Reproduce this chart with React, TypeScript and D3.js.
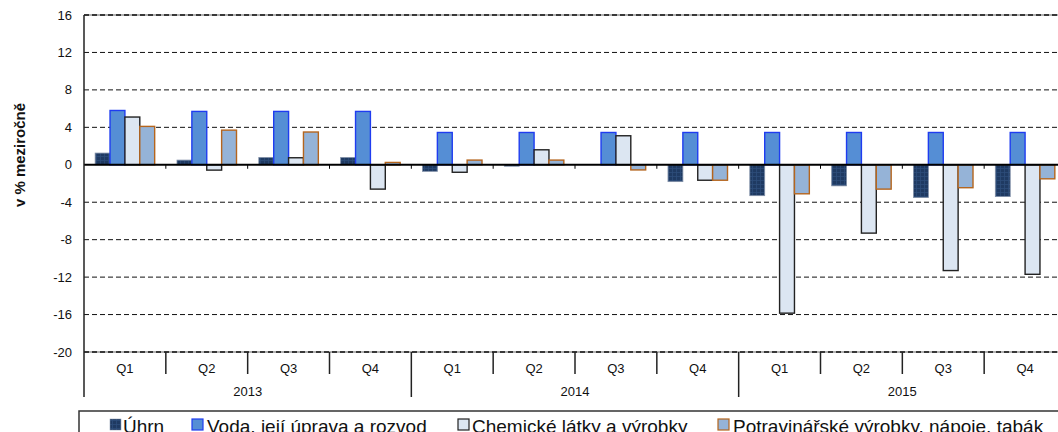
import React from "react";
import * as d3 from "d3";

const years = ["2013", "2014", "2015"];
const quarters = ["Q1", "Q2", "Q3", "Q4"];
const seriesNames = [
  "Úhrn",
  "Voda, její úprava a rozvod",
  "Chemické látky a výrobky",
  "Potravinářské výrobky, nápoje, tabák",
];
const uhrn = [1.25, 0.5, 0.78, 0.78, -0.7, -0.15, 0.0, -1.8, -3.3, -2.25, -3.5, -3.4];
const voda = [5.8, 5.7, 5.7, 5.7, 3.45, 3.45, 3.45, 3.45, 3.45, 3.45, 3.45, 3.45];
const chem = [5.1, -0.57, 0.75, -2.6, -0.8, 1.6, 3.1, -1.65, -15.85, -7.3, -11.3, -11.7];
const potr = [4.1, 3.7, 3.5, 0.25, 0.5, 0.5, -0.55, -1.65, -3.1, -2.6, -2.45, -1.5];
const yTicks = [16, 12, 8, 4, 0, -4, -8, -12, -16, -20];

const W = 1058;
const H = 432;
const FONT = "'Liberation Sans', Arial, sans-serif";

const styles = [
  { fill: "url(#uhrnPat)", stroke: "#7f8ea6", sw: 0.8 },
  { fill: "#558ED5", stroke: "#1f3cf0", sw: 1.4 },
  { fill: "#DCE6F2", stroke: "#222222", sw: 1.4 },
  { fill: "#95B3D7", stroke: "#B5651D", sw: 1.4 },
];

export default function App() {
  const left = 84;
  const right = 1066;
  const top = 15;
  const bottom = 352;
  const cats = years.flatMap((y) => quarters.map((q) => `${y}-${q}`));
  const x0 = d3.scaleBand<string>().domain(cats).range([left, right]).paddingInner(0).paddingOuter(0);
  const x1 = d3
    .scaleBand<string>()
    .domain(seriesNames)
    .range([0, x0.bandwidth()])
    .paddingInner(0)
    .paddingOuter(0.75);
  const y = d3.scaleLinear().domain([-20, 16]).range([bottom, top]);
  const yearScale = d3.scaleBand<string>().domain(years).range([left, right]);
  const data = [uhrn, voda, chem, potr];

  const legendItems = [
    { mx: 110, tx: 123 },
    { mx: 192, tx: 207 },
    { mx: 458, tx: 472 },
    { mx: 718, tx: 733 },
  ];

  return (
    <svg
      width={W}
      height={H}
      style={{ position: "absolute", left: 0, top: 0, background: "#fff" }}
      fontFamily={FONT}
    >
      <defs>
        <pattern id="uhrnPat" width="4" height="4" patternUnits="userSpaceOnUse">
          <rect width="4" height="4" fill="#1F3A62" />
          <path d="M0 0.5H4M0.5 0V4" stroke="#2d4c7a" strokeWidth="0.8" />
        </pattern>
      </defs>
      {/* gridlines */}
      {yTicks.map((t) => (
        <g key={t}>
          {t !== 0 && (
            <line
              x1={left}
              x2={right}
              y1={y(t)}
              y2={y(t)}
              stroke={t === 16 || t === -20 ? "#999" : "none"}
              strokeWidth={1.5}
            />
          )}
          {t !== 0 && (
            <line
              x1={left}
              x2={right}
              y1={y(t)}
              y2={y(t)}
              stroke="#111"
              strokeWidth={t === 16 || t === -20 ? 1.5 : 1}
              strokeDasharray="5,3"
            />
          )}
          <text x={72} y={y(t)} dy="0.35em" textAnchor="end" fontSize={13} fill="#111">
            {t}
          </text>
        </g>
      ))}
      {/* bars */}
      {data.map((vals, si) =>
        vals.map((v, i) => {
          const c = cats[i];
          const bx = (x0(c) as number) + (x1(seriesNames[si]) as number);
          const y0 = y(0);
          const yv = y(v);
          const h = Math.abs(yv - y0);
          if (h < 0.01) return null;
          return (
            <rect
              key={`${si}-${i}`}
              x={bx}
              y={Math.min(yv, y0)}
              width={x1.bandwidth()}
              height={h}
              fill={styles[si].fill}
              stroke={styles[si].stroke}
              strokeWidth={styles[si].sw}
            />
          );
        })
      )}
      {/* zero axis */}
      <line x1={left} x2={right} y1={y(0)} y2={y(0)} stroke="#000" strokeWidth={2} />
      {cats.map((c, i) =>
        i === 0 ? null : (
          <line
            key={`zt${c}`}
            x1={x0(c) as number}
            x2={x0(c) as number}
            y1={y(0)}
            y2={y(0) + 4}
            stroke="#000"
            strokeWidth={1}
          />
        )
      )}
      {/* left axis */}
      <line x1={left} x2={left} y1={top} y2={397} stroke="#222" strokeWidth={1.5} />
      {/* category ticks */}
      {cats.map((c, i) => {
        const xx = x0(c) as number;
        if (i === 0) return null;
        const isYear = i % 4 === 0;
        return (
          <line
            key={`ct${c}`}
            x1={xx}
            x2={xx}
            y1={bottom}
            y2={isYear ? 397 : 374}
            stroke="#222"
            strokeWidth={1.5}
          />
        );
      })}
      {cats.map((c, i) => (
        <text
          key={`cl${c}`}
          x={(x0(c) as number) + x0.bandwidth() / 2}
          y={368}
          dy="0.35em"
          textAnchor="middle"
          fontSize={13}
          fill="#111"
        >
          {quarters[i % 4]}
        </text>
      ))}
      {years.map((yr) => (
        <text
          key={`yl${yr}`}
          x={(yearScale(yr) as number) + yearScale.bandwidth() / 2}
          y={391}
          dy="0.35em"
          textAnchor="middle"
          fontSize={13}
          fill="#111"
        >
          {yr}
        </text>
      ))}
      {/* y axis title */}
      <text
        transform={`translate(25,155) rotate(-90)`}
        textAnchor="middle"
        fontSize={15}
        fontWeight="bold"
        fill="#111"
      >
        v % meziročně
      </text>
      {/* legend */}
      <path d={`M79 ${H + 2}V411H${W + 2}`} fill="none" stroke="#333" strokeWidth={1.5} />
      {seriesNames.map((s, i) => (
        <g key={`lg${i}`}>
          <rect
            x={legendItems[i].mx}
            y={419}
            width={11}
            height={11}
            fill={styles[i].fill}
            stroke={styles[i].stroke}
            strokeWidth={i === 0 ? 0.5 : 1.2}
          />
          <text x={legendItems[i].tx} y={433} fontSize={19} fill="#111">
            {s}
          </text>
        </g>
      ))}
    </svg>
  );
}
